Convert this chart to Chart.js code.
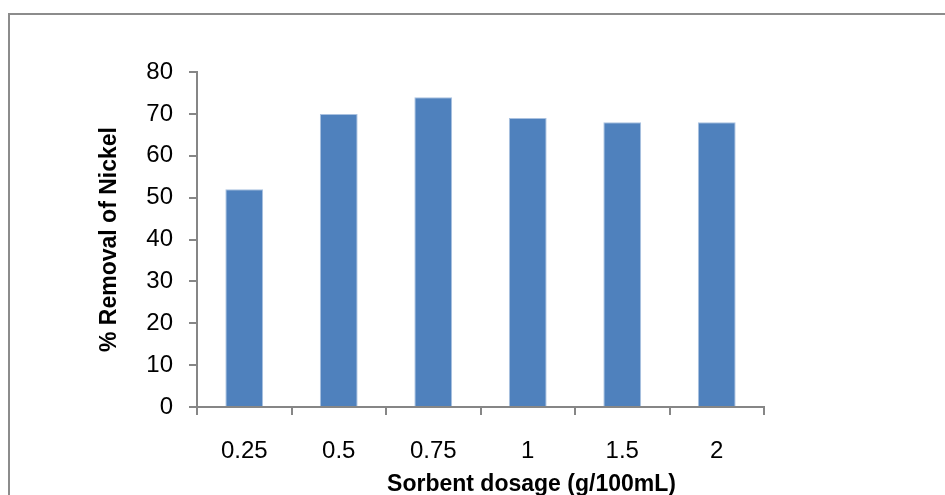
<!DOCTYPE html>
<html lang="en">
<head>
    <meta charset="UTF-8">
    <title>% Removal of Nickel</title>
    <script src="https://cdn.jsdelivr.net/npm/chart.js"></script>
    <style>
        html, body {
            margin: 0;
            padding: 0;
            background: #ffffff;
            overflow: hidden;
        }
        .frame {
            position: absolute;
            left: 8px;
            top: 13px;
            width: 1000px;
            height: 600px;
            border: 2px solid #8c8c8c;
        }
        .chart-wrap {
            position: absolute;
            left: 0;
            top: 0;
            width: 945px;
            height: 495px;
        }
    </style>
</head>
<body>
    <div class="frame"></div>
    <div class="chart-wrap">
        <canvas id="nickelChart"></canvas>
    </div>

    <script>
        // data
        const dosages = ['0.25', '0.5', '0.75', '1', '1.5', '2'];
        const removal = [52, 70, 74, 69, 68, 68];
        const yTicks = [0, 10, 20, 30, 40, 50, 60, 70, 80];
        const xTitle = 'Sorbent dosage (g/100mL)';

        const axisGrey = '#868686';
        const fontFam = "'Liberation Sans', Arial, sans-serif";

        // the x title in the original sits right of the axis centre,
        // so it is drawn here instead of by the scale
        const xTitlePlugin = {
            id: 'xTitle',
            afterDraw(chart) {
                const x = chart.scales.x;
                const c = chart.ctx;
                c.save();
                c.font = 'bold 23px ' + fontFam;
                c.fillStyle = '#000';
                c.textAlign = 'center';
                c.textBaseline = 'alphabetic';
                c.fillText(xTitle, (x.left + x.right) / 2 + 51, 491);
                c.restore();
            }
        };

        const ctx = document.getElementById('nickelChart').getContext('2d');
        new Chart(ctx, {
            type: 'bar',
            data: {
                labels: dosages,
                datasets: [{
                    label: '% Removal of Nickel',
                    data: removal,
                    backgroundColor: '#4f81bd',
                    borderColor: '#a9c1e0',
                    borderWidth: 1,
                    barPercentage: 0.4,
                    categoryPercentage: 1.0
                }]
            },
            plugins: [xTitlePlugin],
            options: {
                responsive: true,
                maintainAspectRatio: false,
                animation: false,
                layout: {
                    padding: { left: 0, right: 181, top: 72, bottom: 0 }
                },
                plugins: {
                    legend: { display: false },
                    tooltip: { enabled: false }
                },
                scales: {
                    x: {
                        offset: true,
                        grid: {
                            offset: true,
                            drawOnChartArea: false,
                            drawTicks: true,
                            tickLength: 8,
                            color: axisGrey,
                            lineWidth: 2
                        },
                        border: { color: axisGrey, width: 2 },
                        ticks: {
                            color: '#000',
                            padding: 22,
                            maxRotation: 0,
                            font: { family: fontFam, size: 24 }
                        },
                        title: { display: false },
                        afterFit: (scale) => { scale.height = 88; }
                    },
                    y: {
                        min: 0,
                        max: 80,
                        afterBuildTicks: (scale) => {
                            scale.ticks = yTicks.map(v => ({ value: v }));
                        },
                        grid: {
                            drawOnChartArea: false,
                            drawTicks: true,
                            tickLength: 8,
                            color: axisGrey,
                            lineWidth: 2
                        },
                        border: { color: axisGrey, width: 2 },
                        ticks: {
                            color: '#000',
                            padding: 16,
                            font: { family: fontFam, size: 24 }
                        },
                        title: {
                            display: true,
                            text: '% Removal of Nickel',
                            color: '#000',
                            padding: { top: 96, bottom: 0 },
                            font: { family: fontFam, size: 23, weight: 'bold' }
                        },
                        afterFit: (scale) => { scale.width = 197; }
                    }
                }
            }
        });
    </script>
</body>
</html>
